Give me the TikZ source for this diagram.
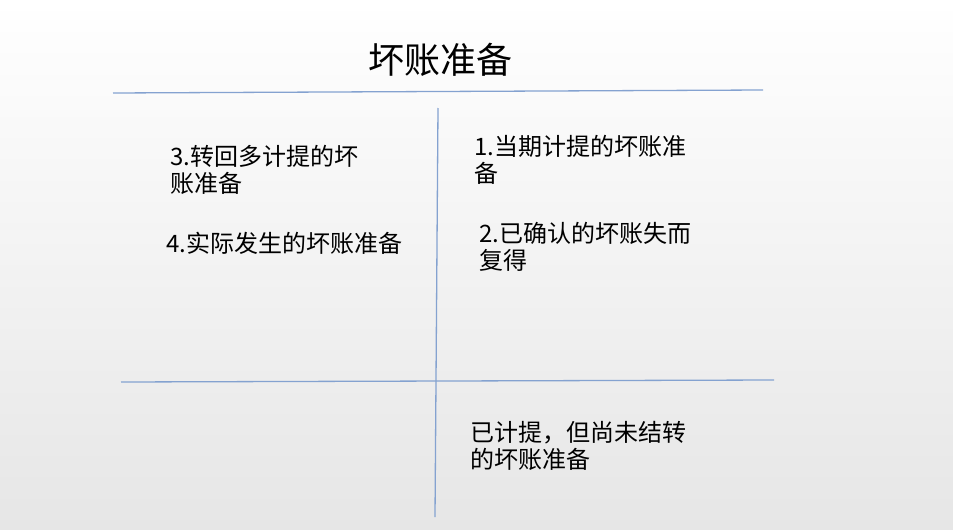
\documentclass[tikz,border=0pt]{standalone}
\usepackage{fontspec}
\setmainfont{Noto Sans CJK SC}
\definecolor{rule}{RGB}{132,162,208}
\definecolor{bgbot}{RGB}{230,230,230}
\begin{document}
\begin{tikzpicture}[x=1pt,y=-1pt,
  ruleline/.style={draw=rule,line width=1.3pt},
  label/.style={anchor=north west,inner sep=0pt,align=left,text=black,
    font=\fontsize{24}{27.5}\selectfont},
  titletext/.style={anchor=north,inner sep=0pt,text=black,
    font=\fontsize{36}{40}\selectfont}]
\useasboundingbox (0,0) rectangle (953,530);
\shade[top color=white,bottom color=bgbot] (0,0) rectangle (953,530);
% lines
\coordinate (tl) at (113,93);
\coordinate (tr) at (763,90);
\coordinate (vt) at (438,108);
\coordinate (vb) at (435,517);
\coordinate (bl) at (121,382);
\coordinate (br) at (774,380);
\draw[ruleline] (tl) -- (tr);
\draw[ruleline] (vt) -- (vb);
\draw[ruleline] (bl) -- (br);
% texts
\node[titletext] (title) at (440,43) {坏账准备};
\node[label] (t3) at (170,145) {3.转回多计提的坏\\账准备};
\node[label] (t4) at (166,232) {4.实际发生的坏账准备};
\node[label] (t1) at (474,135) {1.当期计提的坏账准\\备};
\node[label] (t2) at (479,222) {2.已确认的坏账失而\\复得};
\node[label] (t5) at (470,421) {已计提，但尚未结转\\的坏账准备};
\end{tikzpicture}
\end{document}
